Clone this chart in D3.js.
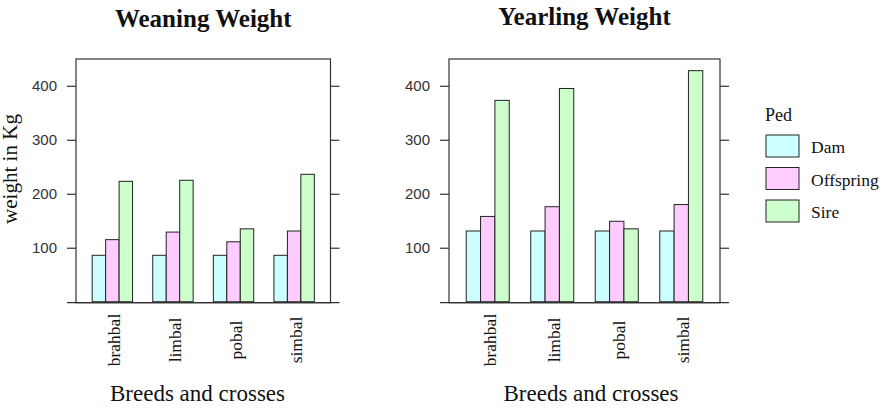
<!DOCTYPE html>
<html>
<head>
<meta charset="utf-8">
<script src="https://cdn.jsdelivr.net/npm/d3@7"></script>
<style>
  html, body { margin: 0; padding: 0; background: #fff; }
  svg { display: block; }
</style>
</head>
<body>
<svg id="chart" width="887" height="412"></svg>
<script>
// ---- data ----
const categories = ["brahbal", "limbal", "pobal", "simbal"];
const peds = ["Dam", "Offspring", "Sire"];
const weaningDam = [86, 86, 86, 86];
const weaningOffspring = [115, 129, 111, 131];
const weaningSire = [223, 225, 135, 236];
const yearlingDam = [131, 131, 131, 131];
const yearlingOffspring = [158, 176, 149, 180];
const yearlingSire = [373, 395, 135, 428];
const yTicks = [100, 200, 300, 400];
const pedColors = ["#CCFFFF", "#FFCCFF", "#CCFFCC"];
const titles = ["Weaning Weight", "Yearling Weight"];
const xLabel = "Breeds and crosses";
const yLabel = "weight in Kg";
const legendTitle = "Ped";

const svg = d3.select("#chart");
const serif = "'Liberation Serif', 'Times New Roman', serif";
const sans = "'Liberation Sans', Arial, sans-serif";

const y = d3.scaleLinear().domain([-1.8, 449.6]).range([302.7, 59]);
const boxTop = y(449.6), boxBottom = y(-1.8);

const panels = [
  { x0: 76, x1: 330.5, title: titles[0], titleY: 27.3, xlabCx: 197.5,
    series: [weaningDam, weaningOffspring, weaningSire] },
  { x0: 449, x1: 720, title: titles[1], titleY: 25.2, xlabCx: 591,
    series: [yearlingDam, yearlingOffspring, yearlingSire] }
];

panels.forEach(p => {
  const g = svg.append("g");
  const x = d3.scaleBand().domain(categories).range([p.x0, p.x1])
    .paddingInner(1 / 3).paddingOuter(0.267);
  const xs = d3.scaleBand().domain(peds).range([0, x.bandwidth()]);

  // bars
  categories.forEach((c, i) => {
    peds.forEach((s, j) => {
      const v = p.series[j][i];
      g.append("rect")
        .attr("x", x(c) + xs(s))
        .attr("y", y(v))
        .attr("width", xs.bandwidth())
        .attr("height", y(0) - y(v))
        .attr("fill", pedColors[j])
        .attr("stroke", "#222")
        .attr("stroke-width", 1);
    });
  });

  // box
  g.append("rect")
    .attr("x", p.x0).attr("y", boxTop)
    .attr("width", p.x1 - p.x0).attr("height", boxBottom - boxTop)
    .attr("fill", "none").attr("stroke", "#333").attr("stroke-width", 1.2);
  // extended bottom line
  g.append("line")
    .attr("x1", p.x0 - 9).attr("x2", p.x1 + 9)
    .attr("y1", boxBottom).attr("y2", boxBottom)
    .attr("stroke", "#333").attr("stroke-width", 1.2);

  // left axis
  const la = g.append("g").attr("transform", `translate(${p.x0},0)`)
    .call(d3.axisLeft(y).tickValues(yTicks).tickSize(9).tickPadding(10));
  la.select(".domain").remove();
  la.selectAll("line").attr("stroke", "#333").attr("stroke-width", 1.2);
  la.selectAll("text").attr("font-family", sans).attr("font-size", 15).attr("fill", "#333");

  // right axis (ticks only)
  const ra = g.append("g").attr("transform", `translate(${p.x1},0)`)
    .call(d3.axisRight(y).tickValues(yTicks).tickSize(9).tickFormat(""));
  ra.select(".domain").remove();
  ra.selectAll("line").attr("stroke", "#333").attr("stroke-width", 1.2);

  // category labels
  categories.forEach(c => {
    const cx = x(c) + x.bandwidth() / 2 + 2;
    g.append("text")
      .attr("transform", `translate(${cx},340) rotate(-90)`)
      .attr("text-anchor", "middle")
      .attr("dy", "0.35em")
      .attr("font-family", serif).attr("font-size", 17.5).attr("fill", "#111")
      .text(c);
  });

  // title
  g.append("text")
    .attr("x", (p.x0 + p.x1) / 2).attr("y", p.titleY)
    .attr("text-anchor", "middle")
    .attr("font-family", serif).attr("font-weight", "bold").attr("font-size", 25)
    .attr("fill", "#111")
    .text(p.title);

  // x label
  g.append("text")
    .attr("x", p.xlabCx).attr("y", 400.7)
    .attr("text-anchor", "middle")
    .attr("font-family", serif).attr("font-size", 23).attr("fill", "#111")
    .text(xLabel);
});

// y label
svg.append("text")
  .attr("transform", "translate(17,169) rotate(-90)")
  .attr("text-anchor", "middle")
  .attr("font-family", serif).attr("font-size", 20).attr("fill", "#111")
  .attr("textLength", 110).attr("lengthAdjust", "spacingAndGlyphs")
  .text(yLabel);

// legend
const lg = svg.append("g");
lg.append("text").attr("x", 765).attr("y", 120.7)
  .attr("font-family", serif).attr("font-size", 18).attr("fill", "#111")
  .text(legendTitle);
peds.forEach((s, j) => {
  const yy = 135 + j * 32.5;
  lg.append("rect").attr("x", 766).attr("y", yy).attr("width", 33).attr("height", 22)
    .attr("fill", pedColors[j]).attr("stroke", "#222").attr("stroke-width", 1);
  lg.append("text").attr("x", 811).attr("y", yy + 18.3)
    .attr("font-family", serif).attr("font-size", 17.5).attr("fill", "#111")
    .text(s);
});
</script>
</body>
</html>
